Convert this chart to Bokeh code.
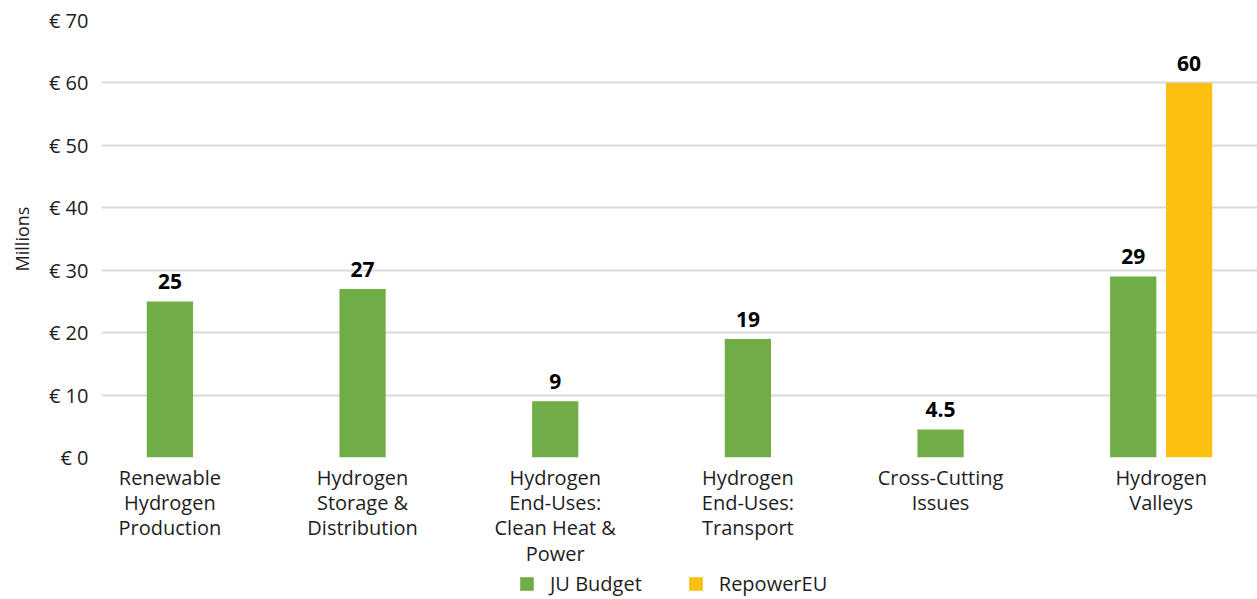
import numpy as np
from bokeh.plotting import figure
from bokeh.layouts import column
from bokeh.core.properties import value
from bokeh.models import (ColumnDataSource, Range1d, FixedTicker, PrintfTickFormatter,
                          LabelSet, Legend, CustomJSTickFormatter)
from bokeh.embed import file_html
from bokeh.resources import INLINE

categories = ["Renewable Hydrogen Production", "Hydrogen Storage & Distribution",
              "Hydrogen End-Uses: Clean Heat & Power", "Hydrogen End-Uses: Transport",
              "Cross-Cutting Issues", "Hydrogen Valleys"]
tick_labels = ["Renewable\nHydrogen\nProduction", "Hydrogen\nStorage &\nDistribution",
               "Hydrogen\nEnd-Uses:\nClean Heat &\nPower", "Hydrogen\nEnd-Uses:\nTransport",
               "Cross-Cutting\nIssues", "Hydrogen\nValleys"]
series_names = ["JU Budget", "RepowerEU"]
ju_budget = [25, 27, 9, 19, 4.5, 29]
repower_eu = [None, None, None, None, None, 60]
y_ticks = [0, 10, 20, 30, 40, 50, 60, 70]

GREEN = "#70AD47"
YELLOW = "#FCC010"
FONT = "Open Sans"
TXT = "#1e1e1e"

n = len(categories)
idx = np.arange(n, dtype=float)
off = 0.145
bw = 0.24
has_rep = np.array([v is not None for v in repower_eu])

ju_x = idx - off
rep_x = (idx + off)[has_rep]
rep_v = [v for v in repower_eu if v is not None]
label_x = np.where(has_rep, idx, idx - off)

def fmt(v):
    return str(int(v)) if float(v).is_integer() else str(v)

src_ju = ColumnDataSource(dict(x=ju_x, top=ju_budget, lab=[fmt(v) for v in ju_budget]))
src_rep = ColumnDataSource(dict(x=rep_x, top=rep_v, lab=[fmt(v) for v in rep_v]))

p = figure(width=1257, height=569, output_backend="svg", toolbar_location=None,
           x_range=Range1d(-0.5, n - 0.5), y_range=Range1d(0, 70),
           min_border_left=101, min_border_right=0, min_border_top=20, min_border_bottom=110)
p.outline_line_color = None
p.background_fill_color = "white"
p.border_fill_color = "white"

r1 = p.vbar(x="x", top="top", width=bw, source=src_ju, fill_color=GREEN, line_color=None)
r2 = p.vbar(x="x", top="top", width=bw, source=src_rep, fill_color=YELLOW, line_color=None)

for s in (src_ju, src_rep):
    p.add_layout(LabelSet(x="x", y="top", text="lab", source=s, y_offset=12,
                          text_align="center", text_baseline="bottom",
                          text_font=value(FONT), text_font_size="21px", text_font_style="bold",
                          text_color="#000000"))

p.xgrid.visible = False
p.ygrid.grid_line_color = "#d9d9d9"
p.ygrid.grid_line_width = 2

p.yaxis.ticker = FixedTicker(ticks=y_ticks)
p.yaxis.formatter = PrintfTickFormatter(format="€ %d")
p.yaxis.axis_line_color = None
p.yaxis.major_tick_line_color = None
p.yaxis.minor_tick_line_color = None
p.yaxis.major_tick_out = 0
p.yaxis.major_label_standoff = 13
p.yaxis.major_label_text_font = FONT
p.yaxis.major_label_text_font_size = "20px"
p.yaxis.major_label_text_color = TXT
p.yaxis.axis_label = "Millions"
p.yaxis.axis_label_text_font = FONT
p.yaxis.axis_label_text_font_size = "18px"
p.yaxis.axis_label_text_font_style = "normal"
p.yaxis.axis_label_text_color = TXT
p.yaxis.axis_label_standoff = 12

p.xaxis.ticker = FixedTicker(ticks=list(label_x))
p.xaxis.formatter = CustomJSTickFormatter(args=dict(tpos=list(label_x), tlabs=tick_labels), code="""
let best = 0;
for (let i = 0; i < tpos.length; i++) {
  if (Math.abs(tpos[i] - tick) < Math.abs(tpos[best] - tick)) best = i;
}
return tlabs[best];
""")
p.xaxis.axis_line_color = None
p.xaxis.major_tick_line_color = None
p.xaxis.minor_tick_line_color = None
p.xaxis.major_tick_out = 0
p.xaxis.major_label_standoff = 6
p.xaxis.major_label_text_font = FONT
p.xaxis.major_label_text_font_size = "20px"
p.xaxis.major_label_text_color = TXT
p.xaxis.major_label_text_line_height = 0.94

# legend strip below the chart (its bars share the chart data but lie beyond its right edge)
lg = figure(width=1257, height=30, output_backend="svg", toolbar_location=None,
            x_range=Range1d(-2 * n, -n), y_range=Range1d(0, 70),
            x_axis_location=None, y_axis_location=None, min_border=0)
lg.outline_line_color = None
lg.xgrid.visible = False
lg.ygrid.visible = False
lg1 = lg.vbar(x="x", top="top", width=bw, source=src_ju, fill_color=GREEN, line_color=None)
lg2 = lg.vbar(x="x", top="top", width=bw, source=src_rep, fill_color=YELLOW, line_color=None)
legend = Legend(items=[(series_names[0], [lg1]), (series_names[1], [lg2])],
                orientation="horizontal", location=(417, 2),
                label_text_font=FONT, label_text_font_size="20px", label_text_color=TXT,
                glyph_width=17, glyph_height=17, label_height=20, label_standoff=15,
                spacing=45, padding=0, margin=0, border_line_color=None,
                background_fill_alpha=0)
lg.add_layout(legend, "center")

layout = column(p, lg, spacing=0)
open("out.html", "w").write(file_html(layout, INLINE))
